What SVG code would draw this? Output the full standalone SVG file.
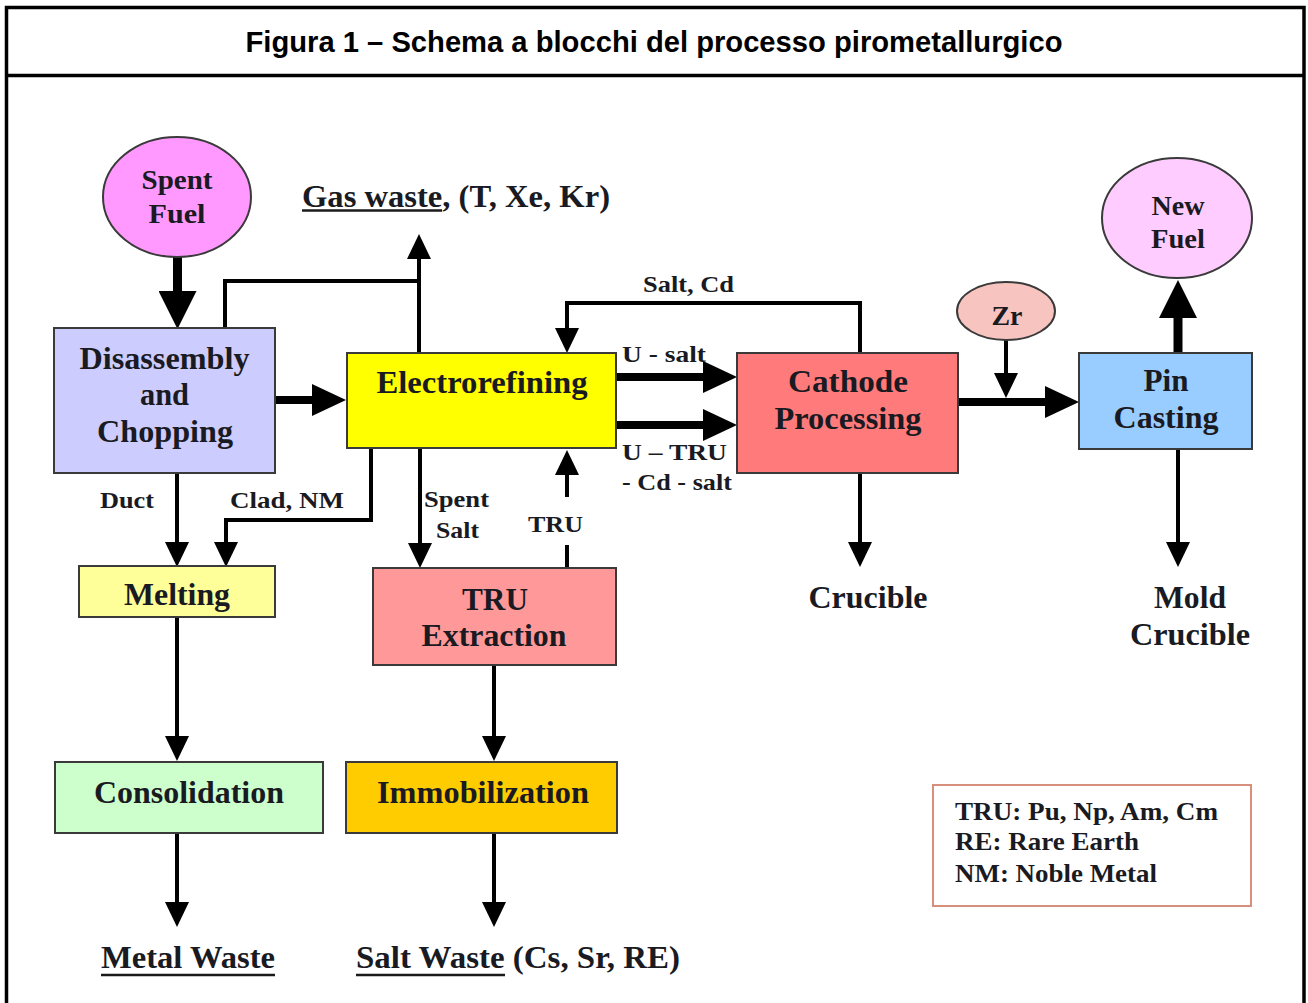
<svg xmlns="http://www.w3.org/2000/svg" width="1308" height="1003" viewBox="0 0 1308 1003">
<style>
.frame{fill:none;stroke:#000;stroke-width:3.5}
.box{stroke:#3a3a3a;stroke-width:2}
.t{font-family:"Liberation Serif","Times New Roman",serif;font-weight:bold;fill:#1a1a22}
.n{font-size:31px;text-anchor:middle}
.s{font-size:23px}
.lg{font-size:25px}
.title{font-family:"Liberation Sans",Arial,sans-serif;font-weight:bold;font-size:29px;text-anchor:middle;fill:#000}
.c{fill:none;stroke:#000;stroke-width:4}
.ck{fill:none;stroke:#000;stroke-width:8}
.cb{fill:none;stroke:#000;stroke-width:9}
.ul{stroke:#1a1a1a;stroke-width:2.5}
</style>
<defs>
<marker id="ah" markerUnits="userSpaceOnUse" viewBox="0 -12 26 24" markerWidth="26" markerHeight="24" refX="1" refY="0" orient="auto"><path d="M0,-12 L25,0 L0,12 z" fill="#000"/></marker>
<marker id="ahk" markerUnits="userSpaceOnUse" viewBox="0 -16 35 32" markerWidth="35" markerHeight="32" refX="1" refY="0" orient="auto"><path d="M0,-16 L34,0 L0,16 z" fill="#000"/></marker>
<marker id="ahb" markerUnits="userSpaceOnUse" viewBox="0 -19 39 38" markerWidth="39" markerHeight="38" refX="1" refY="0" orient="auto"><path d="M0,-19 L38,0 L0,19 z" fill="#000"/></marker>
</defs>
<rect width="1308" height="1003" fill="#fff"/>
<rect class="frame" x="6.5" y="7.5" width="1297.5" height="1010"/>
<line x1="6.5" y1="75.5" x2="1304" y2="75.5" stroke="#000" stroke-width="3.5"/>
<text class="title" x="654" y="52" textLength="817" lengthAdjust="spacingAndGlyphs">Figura 1 – Schema a blocchi del processo pirometallurgico</text>

<g id="connectors">
<path class="cb" d="M177.5,257 V292" marker-end="url(#ahb)"/>
<path class="ck" d="M275,400 H313" marker-end="url(#ahk)"/>
<path class="c" d="M225,328 V281 H419"/>
<path class="c" d="M419,353 V258" marker-end="url(#ah)"/>
<path class="c" d="M860,353 V303 H567 V329" marker-end="url(#ah)"/>
<path class="ck" d="M616,377 H704" marker-end="url(#ahk)"/>
<path class="ck" d="M616,425 H704" marker-end="url(#ahk)"/>
<path class="ck" d="M958,402 H1046" marker-end="url(#ahk)"/>
<path class="c" d="M1006,340 V374" marker-end="url(#ah)"/>
<path class="cb" d="M1178,353 V317" marker-end="url(#ahb)"/>
<path class="c" d="M1178,449 V543" marker-end="url(#ah)"/>
<path class="c" d="M860,473 V543" marker-end="url(#ah)"/>
<path class="c" d="M177,473 V543" marker-end="url(#ah)"/>
<path class="c" d="M371,448 V520 H226 V543" marker-end="url(#ah)"/>
<path class="c" d="M420,448 V544" marker-end="url(#ah)"/>
<path class="c" d="M567,568 V545"/>
<path class="c" d="M567,497 V474" marker-end="url(#ah)"/>
<path class="c" d="M177,617 V737" marker-end="url(#ah)"/>
<path class="c" d="M494,665 V737" marker-end="url(#ah)"/>
<path class="c" d="M177,833 V903" marker-end="url(#ah)"/>
<path class="c" d="M494,833 V903" marker-end="url(#ah)"/>
</g>

<g id="spent-fuel">
<ellipse class="box" cx="177" cy="197" rx="74" ry="60" fill="#ff99ff" stroke-width="2.5"/>
<text class="t" x="177" y="189" font-size="27" text-anchor="middle" textLength="71" lengthAdjust="spacingAndGlyphs">Spent</text>
<text class="t" x="177" y="223" font-size="27" text-anchor="middle" textLength="57" lengthAdjust="spacingAndGlyphs">Fuel</text>
</g>

<g id="gas-waste">
<text class="t" x="302" y="207" font-size="31" textLength="308" lengthAdjust="spacingAndGlyphs">Gas waste, (T, Xe, Kr)</text>
<line class="ul" x1="302" y1="210.5" x2="442" y2="210.5"/>
</g>

<g id="disassembly">
<rect class="box" x="54" y="328" width="221" height="145" fill="#ccccff"/>
<text class="t n" x="164.5" y="369" textLength="170" lengthAdjust="spacingAndGlyphs">Disassembly</text>
<text class="t n" x="164.5" y="405" textLength="49" lengthAdjust="spacingAndGlyphs">and</text>
<text class="t n" x="165" y="442" textLength="136" lengthAdjust="spacingAndGlyphs">Chopping</text>
</g>

<g id="electrorefining">
<rect class="box" x="347" y="353" width="269" height="95" fill="#ffff00"/>
<text class="t n" x="482" y="393" textLength="211" lengthAdjust="spacingAndGlyphs">Electrorefining</text>
</g>

<g id="cathode">
<rect class="box" x="737" y="353" width="221" height="120" fill="#ff7b7b"/>
<text class="t n" x="848" y="392" textLength="120" lengthAdjust="spacingAndGlyphs">Cathode</text>
<text class="t n" x="848" y="429" textLength="147" lengthAdjust="spacingAndGlyphs">Processing</text>
</g>

<g id="zr">
<ellipse class="box" cx="1006" cy="311" rx="49" ry="29" fill="#f8c4c0" stroke-width="2.5"/>
<text class="t" x="1007" y="325" font-size="28" text-anchor="middle" textLength="31" lengthAdjust="spacingAndGlyphs">Zr</text>
</g>

<g id="pin-casting">
<rect class="box" x="1079" y="353" width="173" height="96" fill="#99ccff"/>
<text class="t n" x="1166" y="391" textLength="45" lengthAdjust="spacingAndGlyphs">Pin</text>
<text class="t n" x="1166" y="428" textLength="105" lengthAdjust="spacingAndGlyphs">Casting</text>
</g>

<g id="new-fuel">
<ellipse class="box" cx="1177" cy="218" rx="75" ry="60" fill="#ffccff" stroke-width="2.5"/>
<text class="t" x="1178" y="215" font-size="27" text-anchor="middle" textLength="53" lengthAdjust="spacingAndGlyphs">New</text>
<text class="t" x="1178" y="248" font-size="27" text-anchor="middle" textLength="54" lengthAdjust="spacingAndGlyphs">Fuel</text>
</g>

<g id="melting">
<rect class="box" x="79" y="566" width="196" height="51" fill="#ffff99"/>
<text class="t n" x="177" y="605" textLength="106" lengthAdjust="spacingAndGlyphs">Melting</text>
</g>

<g id="tru-extraction">
<rect class="box" x="373" y="568" width="243" height="97" fill="#ff9999"/>
<text class="t n" x="495" y="610" textLength="66" lengthAdjust="spacingAndGlyphs">TRU</text>
<text class="t n" x="494" y="646" textLength="145" lengthAdjust="spacingAndGlyphs">Extraction</text>
</g>

<g id="consolidation">
<rect class="box" x="55" y="762" width="268" height="71" fill="#ccffcc"/>
<text class="t n" x="189" y="803" textLength="190" lengthAdjust="spacingAndGlyphs">Consolidation</text>
</g>

<g id="immobilization">
<rect class="box" x="346" y="762" width="271" height="71" fill="#ffcc00"/>
<text class="t n" x="483" y="803" textLength="212" lengthAdjust="spacingAndGlyphs">Immobilization</text>
</g>

<g id="crucible">
<text class="t n" x="868" y="608" textLength="119" lengthAdjust="spacingAndGlyphs">Crucible</text>
</g>

<g id="mold-crucible">
<text class="t n" x="1190" y="608" textLength="72" lengthAdjust="spacingAndGlyphs">Mold</text>
<text class="t n" x="1190" y="645" textLength="120" lengthAdjust="spacingAndGlyphs">Crucible</text>
</g>

<g id="metal-waste">
<text class="t n" x="188" y="968" textLength="174" lengthAdjust="spacingAndGlyphs">Metal Waste</text>
<line class="ul" x1="101" y1="975" x2="275" y2="975"/>
</g>

<g id="salt-waste">
<text class="t" x="356" y="968" font-size="31" textLength="324" lengthAdjust="spacingAndGlyphs">Salt Waste (Cs, Sr, RE)</text>
<line class="ul" x1="356" y1="975" x2="505" y2="975"/>
</g>

<g id="labels">
<text class="t s" x="100" y="508" textLength="54" lengthAdjust="spacingAndGlyphs">Duct</text>
<text class="t s" x="230" y="508" textLength="114" lengthAdjust="spacingAndGlyphs">Clad, NM</text>
<text class="t s" x="424" y="507" textLength="65" lengthAdjust="spacingAndGlyphs">Spent</text>
<text class="t s" x="436" y="538" textLength="43" lengthAdjust="spacingAndGlyphs">Salt</text>
<text class="t s" x="528" y="532" textLength="55" lengthAdjust="spacingAndGlyphs">TRU</text>
<text class="t s" x="643" y="292" textLength="91" lengthAdjust="spacingAndGlyphs">Salt, Cd</text>
<text class="t s" x="622" y="362" textLength="84" lengthAdjust="spacingAndGlyphs">U - salt</text>
<text class="t s" x="622" y="460" textLength="105" lengthAdjust="spacingAndGlyphs">U – TRU</text>
<text class="t s" x="622" y="490" textLength="110" lengthAdjust="spacingAndGlyphs">- Cd - salt</text>
</g>

<g id="legend">
<rect x="933" y="785" width="318" height="121" fill="#fff" stroke="#d8907c" stroke-width="2"/>
<text class="t lg" x="955" y="820" textLength="263" lengthAdjust="spacingAndGlyphs">TRU: Pu, Np, Am, Cm</text>
<text class="t lg" x="955" y="850" textLength="184" lengthAdjust="spacingAndGlyphs">RE: Rare Earth</text>
<text class="t lg" x="955" y="882" textLength="202" lengthAdjust="spacingAndGlyphs">NM: Noble Metal</text>
</g>
</svg>
